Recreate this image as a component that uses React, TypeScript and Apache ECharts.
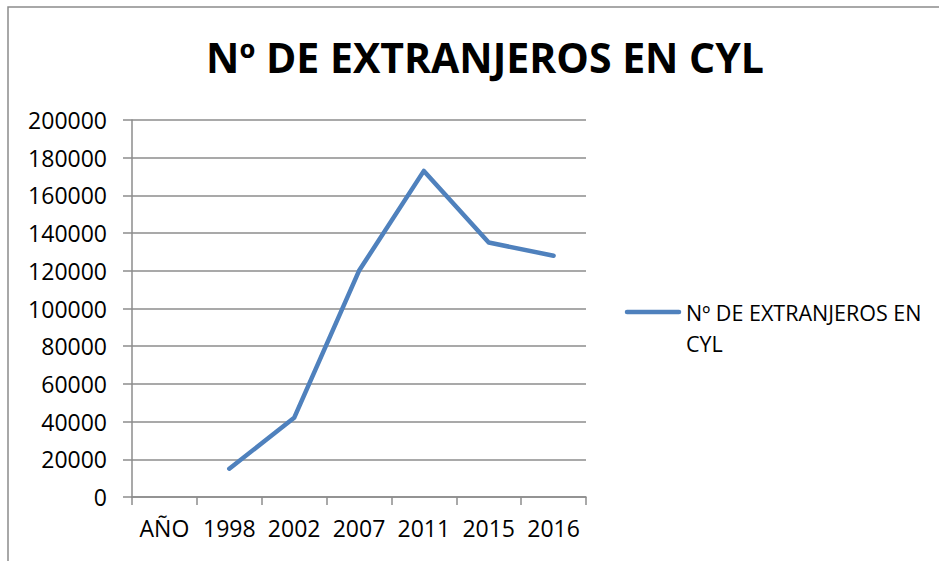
import React, { useEffect, useRef } from "react";
import * as echarts from "echarts";

const categories = ["AÑO", "1998", "2002", "2007", "2011", "2015", "2016"];
const extranjeros = [null, 15000, 42000, 120000, 173000, 135000, 128000];
const seriesName = "Nº DE EXTRANJEROS EN CYL";
const titleText = "Nº DE EXTRANJEROS EN CYL";

const FONT = "'Open Sans', 'Noto Sans', sans-serif";

export default function App() {
  const ref = useRef<HTMLDivElement>(null);
  useEffect(() => {
    if (!ref.current) return;
    const chart = echarts.init(ref.current, null, { renderer: "svg" });
    chart.setOption({
      animation: false,
      backgroundColor: "#ffffff",
      title: {
        text: titleText,
        left: 480,
        textAlign: "center",
        top: 31,
        textStyle: { fontFamily: FONT, fontWeight: "bold", fontSize: 41, color: "#000" },
      },
      grid: { left: 132, right: 353, top: 120, bottom: 64, containLabel: false },
      xAxis: {
        type: "category",
        data: categories,
        boundaryGap: true,
        axisLine: { show: true, lineStyle: { color: "#8c8c8c", width: 1.5 } },
        axisTick: { show: true, length: 8, lineStyle: { color: "#8c8c8c", width: 1.5 } },
        axisLabel: { fontFamily: FONT, fontSize: 23, color: "#000", margin: 19, interval: 0 },
        splitLine: { show: false },
      },
      yAxis: {
        type: "value",
        min: 0,
        max: 200000,
        interval: 20000,
        axisLine: { show: true, lineStyle: { color: "#8c8c8c", width: 1.5 } },
        axisTick: { show: true, length: 9, lineStyle: { color: "#8c8c8c", width: 1.5 } },
        axisLabel: {
          fontFamily: FONT,
          fontSize: 23,
          color: "#000",
          margin: 25,
          formatter: (v: number) => String(v),
        },
        splitLine: { show: true, lineStyle: { color: "#8c8c8c", width: 1.5 } },
      },
      series: [
        {
          name: seriesName,
          type: "line",
          data: extranjeros,
          symbol: "none",
          connectNulls: false,
          lineStyle: { color: "#4f81bd", width: 4.5, cap: "round", join: "round" },
          itemStyle: { color: "#4f81bd" },
        },
      ],
      graphic: [
        {
          type: "rect",
          shape: { x: 8, y: 7, width: 1000, height: 700 },
          style: { fill: "none", stroke: "#8c8c8c", lineWidth: 1.5 },
          silent: true,
        },
        {
          type: "line",
          shape: { x1: 627, y1: 312, x2: 679, y2: 312 },
          style: { stroke: "#4f81bd", lineWidth: 4.5, lineCap: "round" },
        },
        {
          type: "text",
          x: 686,
          y: 312,
          style: {
            text: "Nº DE EXTRANJEROS EN",
            fontFamily: FONT,
            fontSize: 21.5,
            fill: "#000",
            verticalAlign: "middle",
          },
        },
        {
          type: "text",
          x: 686,
          y: 343,
          style: {
            text: "CYL",
            fontFamily: FONT,
            fontSize: 21.5,
            fill: "#000",
            verticalAlign: "middle",
          },
        },
      ],
    });
    return () => chart.dispose();
  }, []);
  return (
    <div
      ref={ref}
      style={{ position: "fixed", left: 0, top: 0, width: 939, height: 561 }}
    />
  );
}
